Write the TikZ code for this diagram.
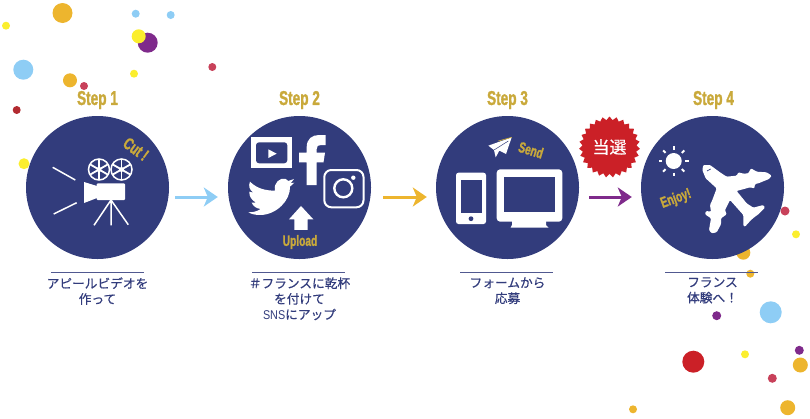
\documentclass[tikz,border=0pt]{standalone}
\usepackage{fontspec}
\usetikzlibrary{%
  positioning
 ,arrows.meta
 ,shapes.geometric
}
\setmainfont{Liberation Sans}
\newfontfamily\jpfont[FakeBold=.5]{Noto Sans CJK JP}
\newfontfamily\snsfont[FakeStretch=.85]{Liberation Sans}
\newfontfamily\stepfont[FakeStretch=.68,FakeBold=1.3]{Liberation Sans}
\definecolor{stepnavy}{HTML}{323C7C}
\definecolor{stepgold}{HTML}{C9A93B}
\definecolor{dotblue}{HTML}{8ECDF5}
\definecolor{dotorange}{HTML}{EDB52E}
\definecolor{dotpurple}{HTML}{7F2A8B}
\definecolor{dotyellow}{HTML}{FBEE2E}
\definecolor{dotpink}{HTML}{C8415A}
\definecolor{dotred}{HTML}{CB2027}
\definecolor{dotdark}{HTML}{B22A30}
\tikzstyle{stepc}=[circle,fill=stepnavy,minimum size=143pt,inner sep=0pt]
\tikzstyle{steplab}=[text=stepgold,inner sep=0pt,font=\fontsize{20}{20}\selectfont\stepfont\bfseries]
\tikzstyle{iconlab}=[text=stepgold,inner sep=0pt,font=\fontsize{15}{15}\selectfont\stepfont\bfseries]
\tikzstyle{captxt}=[text=stepnavy,align=center,inner sep=0pt,
                 font=\fontsize{12.7}{15.6}\selectfont\jpfont]
\tikzstyle{rul}=[draw=stepnavy!85!white,line width=1pt]
\tikzstyle{arr}=[-{Stealth[inset=4pt,length=14pt,width=19pt]},line width=3pt]
\begin{document}
\begin{tikzpicture}[x=1pt,y=-1pt]
    \useasboundingbox (0,0) rectangle (810,418);
    % dots in the back
    \foreach \col/\dx/\dy/\dr in {
      dotorange/62.5/13/10, dotyellow/6/25.7/4, dotblue/135.7/13.7/4,
      dotblue/170.7/15/4, dotpurple/147.7/42.7/10, dotyellow/138.7/36.3/7,
      dotblue/23.3/69.7/10, dotorange/70/80.3/7, dotpink/84/86/4,
      dotyellow/134/73.7/4, dotpink/212.3/67/4, dotdark/16.7/110/4,
      dotyellow/24/163.7/5.5, dotpink/785/211/4.5, dotyellow/796/234.3/4,
      dotorange/743.3/252.7/7, dotorange/750.3/273.7/4, dotblue/770.7/312.3/11,
      dotpurple/716.7/315.7/4.5, dotred/693.3/361.7/11, dotyellow/745/354.3/4,
      dotpurple/799.3/350.3/4.5, dotorange/800.3/365/7.5, dotpink/772.3/378.3/4.5,
      dotorange/787.7/407.7/7.5, dotorange/633/409.3/4}
      \fill[\col] (\dx,\dy) circle (\dr);
    %
    \node[stepc](c1)at(97.5,187.5){};
    \node[stepc](c2)at(299.5,187.5){};
    \node[stepc](c3)at(507.5,187.5){};
    \node[stepc](c4)at(712.5,187.5){};
    \node[steplab,above=6.5pt of c1](s1){Step 1};
    \node[steplab,above=6.5pt of c2](s2){Step 2};
    \node[steplab,above=6.5pt of c3](s3){Step 3};
    \node[steplab,above=6.5pt of c4,xshift=1pt](s4){Step 4};
    %
    \draw[rul] ([xshift=-46.5pt,yshift=-13pt]c1.south) -- +(93,0);
    \draw[rul] ([xshift=-47.5pt,yshift=-13pt]c2.south) -- +(93,0);
    \draw[rul] ([xshift=-47.5pt,yshift=-13pt]c3.south) -- +(93,0);
    \draw[rul] ([xshift=-47.5pt,yshift=-13pt]c4.south) -- +(93,0);
    \node[captxt,below=18pt of c1](t1){アピールビデオを\\作って};
    \node[captxt,below=18pt of c2](t2){＃フランスに乾杯\\を付けて\\{\snsfont SNS}にアップ};
    \node[captxt,below=18pt of c3](t3){フォームから\\応募};
    \node[captxt,below=18pt of c4](t4){フランス\\体験へ！};
    %
    \draw[arr,dotblue,shorten <=6pt,shorten >=10pt] ([yshift=-9.5pt]c1.east) -- ([yshift=-9.5pt]c2.west);
    \draw[arr,dotorange,shorten <=12pt,shorten >=9pt] ([yshift=-9.5pt]c2.east) -- ([yshift=-9.5pt]c3.west);
    \draw[arr,dotpurple,shorten <=10pt,shorten >=9pt] ([yshift=-9.5pt]c3.east) -- ([yshift=-9.5pt]c4.west);
    \node[star,star points=27,star point ratio=1.13,fill=dotred,minimum size=61pt,inner sep=0pt,
      text=white,font=\fontsize{17}{17}\selectfont\jpfont](win)at(609.5,147){当選};
    %
    % camera
    \draw[white,line width=1.5pt] (52.7,167.3) -- (75.3,180) (53.7,214) -- (76.7,202.7);
    \foreach \rx in {99,121.5}{
      \draw[white,line width=1.5pt] (\rx,169.5) circle (10.5);
      \fill[white] (\rx,169.5) circle (2.5);
      \foreach \ang in {30,90,...,330}
        \draw[white,line width=1.8pt] (\rx,169.5) -- ++(\ang:10);
    }
    \fill[white,rounded corners=1pt] (96.7,183.3) rectangle (125,200);
    \fill[white] (84,182) -- (97,186) -- (97,198) -- (84,203) -- cycle;
    \draw[white,line width=1.5pt] (94,225.3) -- (111,200) -- (128.3,224.7) (111,200) -- (111,225.3);
    \node[iconlab,rotate=-36,font=\fontsize{17}{17}\selectfont\stepfont\bfseries](cut)at(136,149){Cut !};
    %
    % social icons
    \fill[white] (251,137.3) rectangle (292.3,168.3);
    \fill[stepnavy,rounded corners=3pt] (256,142.3) rectangle (287.3,163.3);
    \fill[white] (268.3,149.3) -- (268.3,158) -- (276.7,153.7) -- cycle;
    \fill[white] (306.7,185) -- (306.7,162.3) -- (299,162.3) -- (299,152.7) -- (306.7,152.7)
      -- (306.7,147) .. controls (306.7,139) and (312,135) .. (319,135) -- (325.7,135)
      -- (325.7,145) -- (321,145) .. controls (318,145) and (316.7,146) .. (316.7,149)
      -- (316.7,152.7) -- (325,152.7) -- (323.5,162.3) -- (316.7,162.3) -- (316.7,185) -- cycle;
    \draw[white,line width=2pt,rounded corners=7pt] (324.3,170) rectangle (363.5,207.3);
    \draw[white,line width=2.4pt] (343.3,188.3) circle (9);
    \fill[white] (353.3,177.7) circle (2.2);
    \begin{scope}[shift={(200,80)},x=.3333pt,y=-.3333pt]
      % bird
      \fill[white] (150,305) .. controls (170,325) and (195,332) .. (225,332)
        .. controls (220,308) and (240,292) .. (257,297) -- (265,303) -- (282,297) -- (272,310)
        -- (283,308) -- (270,320) .. controls (272,360) and (230,405) .. (180,405)
        .. controls (168,405) and (155,403) .. (145,397) .. controls (158,397) and (170,395) .. (182,387)
        .. controls (170,385) and (160,380) .. (155,368) -- (168,368)
        .. controls (155,360) and (147,350) .. (148,335) -- (160,338)
        .. controls (147,328) and (145,318) .. (150,305) -- cycle;
      % arrow
      \fill[white] (303,378) -- (340,418) -- (323,418) -- (323,450) -- (283,450) -- (283,418) -- (267,418) -- cycle;
    \end{scope}
    \node[iconlab](up)at(300,242){Upload};
    %
    % phone and screen
    \fill[white,rounded corners=2.5pt] (456,172.7) rectangle (486,224);
    \fill[stepnavy] (460.7,180) rectangle (481.7,213.3);
    \fill[stepnavy] (471,218.7) circle (2.4);
    \fill[white,rounded corners=3.5pt] (496.7,169.3) rectangle (562.3,221.7);
    \fill[stepnavy] (504,177.3) rectangle (555.3,211.7);
    \fill[white] (512,221) -- (546,221) -- (546,225) -- (548.5,227.7) -- (510.5,227.7) -- (512,225) -- cycle;
    \begin{scope}[shift={(480,130)},x=.3333pt,y=-.3333pt]
      \fill[white] (25,47) -- (95,22) -- (78,72) -- (58,62) -- (47,82) -- (42,60) -- cycle;
      \draw[stepgold,line width=.7pt] (55,33) -- (95,22);
      \draw[stepnavy,line width=.5pt] (42,60) -- (85,33);
    \end{scope}
    \node[iconlab,rotate=-17](send)at(531,150){Send};
    %
    % sun and plane
    \fill[white] (673.7,161) circle (8);
    \foreach \ang in {0,45,...,315}
      \draw[white,line width=2pt] (673.7,161) ++(\ang:11.5) -- ++(\ang:3.5);
    \begin{scope}[shift={(695,155)},x=.3333pt,y=-.3333pt]
      \fill[white,rounded corners=1pt] (25,30) -- (45,30) -- (75,52) -- (95,65) -- (125,62) -- (130,52)
        -- (145,56) -- (160,55) -- (168,40) -- (185,50) -- (215,52) -- (230,62) -- (222,72) -- (190,85)
        -- (180,87) -- (178,100) -- (165,97) -- (125,108) -- (155,145) -- (175,158) -- (205,150)
        -- (210,158) -- (190,178) -- (180,185) -- (168,195) -- (150,215) -- (145,213) -- (145,180)
        -- (105,135) -- (90,165) -- (95,178) -- (78,190) -- (78,208) -- (65,232) -- (50,235)
        -- (42,225) -- (48,190) -- (30,178) -- (33,168) -- (48,170) -- (45,150) -- (52,135)
        -- (65,100) -- (32,70) -- (22,45) -- cycle;
      \draw[stepnavy,line width=.7pt] (36,48) -- (47,42);
    \end{scope}
    \node[iconlab,rotate=20](enjoy)at(676,199){Enjoy!};
  \end{tikzpicture}
\end{document}
